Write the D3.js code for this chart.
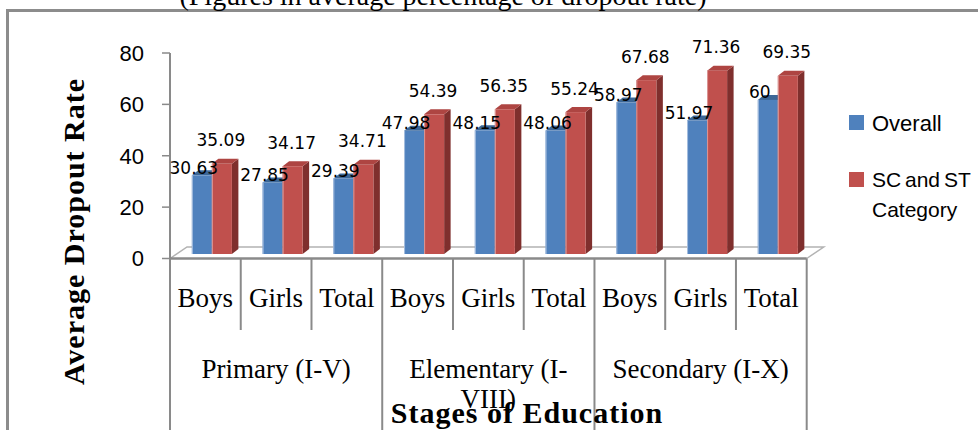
<!DOCTYPE html>
<html><head><meta charset="utf-8">
<script src="https://cdn.jsdelivr.net/npm/d3@7"></script>
<style>body{margin:0;background:#fff}svg{display:block}</style>
</head><body><svg id="c" width="978" height="430"></svg>
<script>
// ---- data ----
const subCategories = ["Boys","Girls","Total","Boys","Girls","Total","Boys","Girls","Total"];
const groups = ["Primary (I-V)","Elementary (I-VIII)","Secondary (I-X)"];
const overall = [30.63,27.85,29.39,47.98,48.15,48.06,58.97,51.97,60];
const scst = [35.09,34.17,34.71,54.39,56.35,55.24,67.68,71.36,69.35];
const seriesNames = ["Overall","SC and ST Category"];
const yTicks = [0,20,40,60,80];
const titleText = "(Figures in average percentage of dropout rate)";
const xTitle = "Stages of Education";
const yTitle = "Average Dropout Rate";

// ---- styles ----
const frontCol = ["#4F81BD","#C0504D"];
const topCol = ["#3C6797","#AE4542"];
const sideCol = ["#2E5079","#7F2F2D"];
const axisCol = "#8a8a8a";
const serif = "'Liberation Serif','Times New Roman',serif";
const sans = "'Liberation Sans',Arial,sans-serif";

const svg = d3.select("#c");

// frame
svg.append("path").attr("d","M7.5,430 V10.5 H978").attr("fill","none")
  .attr("stroke","#8c8c8c").attr("stroke-width",3);

// title (partly cut off at top)
svg.append("text").attr("x",443).attr("y",5).attr("text-anchor","middle")
  .attr("font-family",serif).attr("font-size",28).text(titleText);

// scales
const x = d3.scaleBand().domain(d3.range(subCategories.length))
  .range([170,806.7]).paddingInner(0.434).paddingOuter(0.217);
const xs = d3.scaleBand().domain([0,1]).range([0,x.bandwidth()]);
const y = d3.scaleLinear().domain([0,80]).range([258.5,53]);
const step = x.step();
const x0 = x.range()[0];

// 3D offsets
const off = {x:6.5, y:-4.5};   // bar front plane
const dep = {x:6.5, y:-5};     // bar depth
const floorD = {x:17, y:-11.5};

// floor
const fy = y(0);
const fL = x0, fR = x.range()[1];
svg.append("path")
  .attr("d",`M${fL},${fy} L${fL+floorD.x},${fy+floorD.y} H${fR+floorD.x} L${fR},${fy}`)
  .attr("fill","none").attr("stroke","#b3b3b3").attr("stroke-width",1.5);

// y axis
svg.append("line").attr("x1",x0).attr("x2",x0).attr("y1",y(80)).attr("y2",430)
  .attr("stroke",axisCol).attr("stroke-width",2);
const yt = svg.append("g");
yTicks.forEach(t=>{
  yt.append("line").attr("x1",x0-8).attr("x2",x0).attr("y1",y(t)).attr("y2",y(t))
    .attr("stroke",axisCol).attr("stroke-width",1.5);
  yt.append("text").attr("x",144).attr("y",y(t)).attr("dy","0.36em")
    .attr("text-anchor","end").attr("font-family",sans).attr("font-size",22)
    .attr("fill","#000").text(t);
});

// x axis baseline
svg.append("line").attr("x1",fL).attr("x2",fR).attr("y1",fy).attr("y2",fy)
  .attr("stroke",axisCol).attr("stroke-width",2.5);

// category separators
for (let i=1;i<=subCategories.length;i++){
  const bx = x0 + i*step;
  const isGroup = i%3===0;
  svg.append("line").attr("x1",bx).attr("x2",bx).attr("y1",fy).attr("y2",isGroup?430:330)
    .attr("stroke",axisCol).attr("stroke-width",2);
}

// sub category labels
subCategories.forEach((c,i)=>{
  svg.append("text").attr("x",x0+(i+0.5)*step).attr("y",307).attr("text-anchor","middle")
    .attr("font-family",serif).attr("font-size",27).text(c);
});

// group labels with wrapping
groups.forEach((g,gi)=>{
  const cx = x0 + (gi*3+1.5)*step;
  const maxW = 3*step - 8;
  const t = svg.append("text").attr("x",cx).attr("y",378).attr("text-anchor","middle")
    .attr("font-family",serif).attr("font-size",27).text(g);
  if (t.node().getComputedTextLength() > maxW){
    let best = -1;
    for (let k=0;k<g.length;k++){
      if (g[k]==="-"||g[k]===" "){
        t.text(g.slice(0,k+1));
        if (t.node().getComputedTextLength()<=maxW) best=k;
      }
    }
    t.text(null);
    const l1 = g.slice(0,best+1).trim(), l2 = g.slice(best+1).trim();
    t.append("tspan").attr("x",cx).attr("y",378).text(l1);
    t.append("tspan").attr("x",cx).attr("y",408).text(l2);
  }
});

// bars
const data = [overall, scst];
const bars = svg.append("g");
subCategories.forEach((c,i)=>{
  [0,1].forEach(s=>{
    const v = data[s][i];
    const bx = x(i)+xs(s)+off.x, w = xs.bandwidth();
    const top = y(v)+off.y, bot = y(0)+off.y;
    bars.append("path")
      .attr("d",`M${bx+w},${top} L${bx+w+dep.x},${top+dep.y} V${bot+dep.y} L${bx+w},${bot}Z`)
      .attr("fill",sideCol[s]);
    bars.append("path")
      .attr("d",`M${bx},${top} L${bx+dep.x},${top+dep.y} H${bx+w+dep.x} L${bx+w},${top}Z`)
      .attr("fill",topCol[s]);
    bars.append("rect").attr("x",bx).attr("y",top).attr("width",w).attr("height",bot-top)
      .attr("fill",frontCol[s]);
    bars.append("line").attr("x1",bx+0.5).attr("x2",bx+0.5).attr("y1",top).attr("y2",bot)
      .attr("stroke",s===0?"#a9c0e0":"#dc9a98").attr("stroke-width",1);
  });
});

// data labels
subCategories.forEach((c,i)=>{
  [0,1].forEach(s=>{
    const v = data[s][i];
    const bx = x(i)+xs(s)+off.x, w = xs.bandwidth();
    const top = y(v)+off.y;
    svg.append("text")
      .attr("x", bx + w/2 + (s===0?-8:-1))
      .attr("y", s===0? top-1.5 : top-17.5)
      .attr("text-anchor","middle").attr("font-family","'DejaVu Sans',sans-serif")
      .attr("font-size",17).attr("fill","#000").text(String(v));
  });
});

// legend
const lg = svg.append("g");
const legendY = [115,172];
seriesNames.forEach((n,s)=>{
  lg.append("rect").attr("x",849).attr("y",legendY[s]).attr("width",15).attr("height",15)
    .attr("fill",frontCol[s]);
});
lg.append("text").attr("x",872).attr("y",131).attr("font-family",sans).attr("font-size",22).text("Overall");
const l2 = lg.append("text").attr("x",872).attr("y",187).attr("font-family",sans).attr("font-size",21);
const words = seriesNames[1].split(" ");
l2.append("tspan").attr("x",872).attr("y",187).attr("word-spacing",-2).text(words.slice(0,3).join(" "));
l2.append("tspan").attr("x",872).attr("y",217).text(words.slice(3).join(" "));

// axis titles
svg.append("text").attr("x",527).attr("y",423).attr("text-anchor","middle")
  .attr("font-family",serif).attr("font-weight","bold").attr("font-size",30)
  .attr("letter-spacing",1).text(xTitle);
svg.append("text").attr("transform","translate(84,231.5) rotate(-90)").attr("text-anchor","middle")
  .attr("font-family",serif).attr("font-weight","bold").attr("font-size",30)
  .attr("letter-spacing",1).text(yTitle);
</script>
</body></html>
